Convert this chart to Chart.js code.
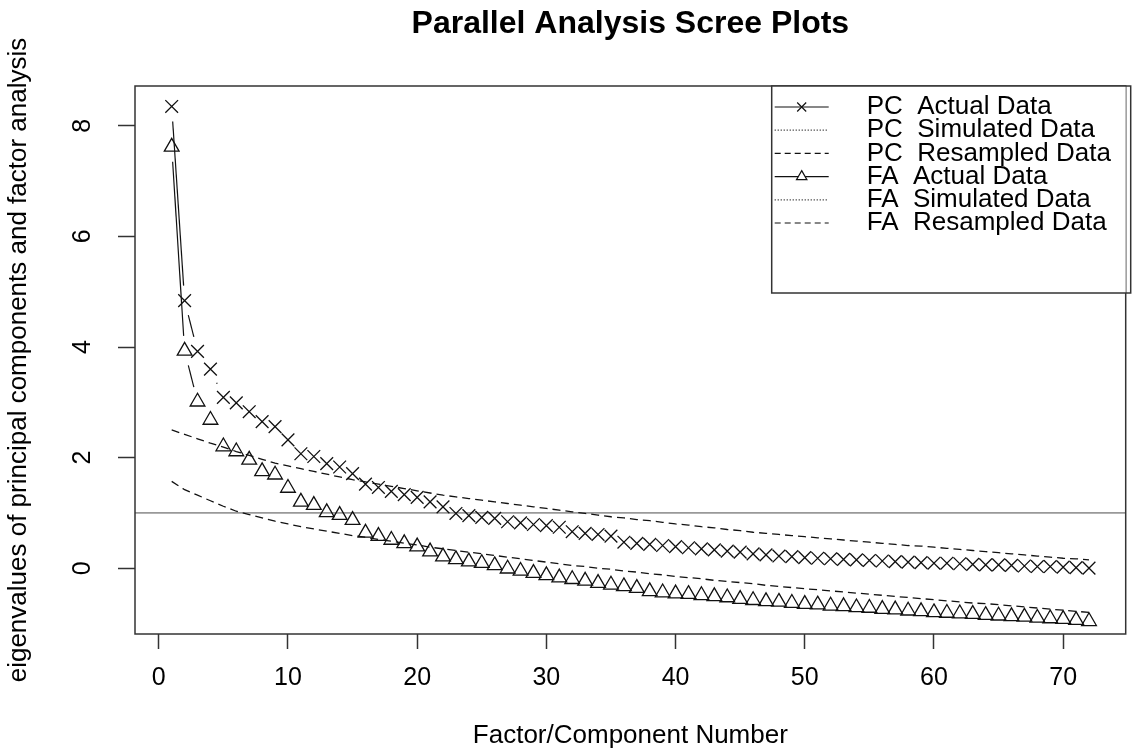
<!DOCTYPE html>
<html>
<head>
<title>Parallel Analysis Scree Plots</title>
<script src="https://cdn.jsdelivr.net/npm/chart.js"></script>
<style>
  body { margin: 0; background: #fff; }
  #chart-container { width: 1136px; height: 751px; }
</style>
</head>
<body>
<div id="chart-container"><canvas id="chart"></canvas></div>
<script>
const factorNumbers = [1, 2, 3, 4, 5, 6, 7, 8, 9, 10, 11, 12, 13, 14, 15, 16, 17, 18, 19, 20,
  21, 22, 23, 24, 25, 26, 27, 28, 29, 30, 31, 32, 33, 34, 35, 36, 37, 38, 39, 40,
  41, 42, 43, 44, 45, 46, 47, 48, 49, 50, 51, 52, 53, 54, 55, 56, 57, 58, 59, 60,
  61, 62, 63, 64, 65, 66, 67, 68, 69, 70, 71, 72];

const pcActual = [8.35, 4.84, 3.92, 3.60, 3.09, 2.99, 2.83, 2.65, 2.56, 2.32,
  2.07, 2.02, 1.89, 1.83, 1.71, 1.52, 1.46, 1.39, 1.33, 1.28,
  1.20, 1.11, 0.99, 0.95, 0.92, 0.90, 0.84, 0.82, 0.79, 0.77,
  0.74, 0.66, 0.63, 0.61, 0.58, 0.47, 0.45, 0.43, 0.41, 0.39,
  0.37, 0.35, 0.33, 0.31, 0.29, 0.26, 0.24, 0.22, 0.21, 0.19,
  0.18, 0.17, 0.16, 0.15, 0.14, 0.13, 0.12, 0.11, 0.10, 0.09,
  0.09, 0.08, 0.07, 0.06, 0.06, 0.05, 0.04, 0.03, 0.03, 0.02,
  0.01, 0.00];

const pcResampled = [2.50, 2.42, 2.34, 2.26, 2.19, 2.11, 2.04, 1.97, 1.90, 1.85,
  1.80, 1.75, 1.70, 1.65, 1.60, 1.56, 1.52, 1.48, 1.44, 1.40,
  1.36, 1.32, 1.29, 1.26, 1.23, 1.20, 1.17, 1.14, 1.11, 1.08,
  1.05, 1.02, 0.99, 0.96, 0.93, 0.91, 0.88, 0.86, 0.83, 0.80,
  0.78, 0.75, 0.73, 0.70, 0.68, 0.65, 0.63, 0.61, 0.59, 0.57,
  0.55, 0.53, 0.51, 0.49, 0.47, 0.45, 0.43, 0.41, 0.40, 0.38,
  0.36, 0.34, 0.32, 0.30, 0.28, 0.26, 0.24, 0.22, 0.20, 0.18,
  0.17, 0.15];

const faActual = [7.62, 3.93, 3.01, 2.68, 2.20, 2.11, 1.96, 1.75, 1.69, 1.45,
  1.20, 1.14, 1.01, 0.96, 0.87, 0.64, 0.58, 0.51, 0.45, 0.39,
  0.30, 0.21, 0.16, 0.12, 0.09, 0.05, -0.01, -0.05, -0.09, -0.13,
  -0.17, -0.20, -0.23, -0.27, -0.30, -0.33, -0.36, -0.42, -0.44, -0.46,
  -0.47, -0.49, -0.51, -0.53, -0.56, -0.58, -0.60, -0.61, -0.63, -0.65,
  -0.66, -0.68, -0.69, -0.71, -0.72, -0.74, -0.75, -0.77, -0.78, -0.80,
  -0.81, -0.82, -0.83, -0.85, -0.86, -0.87, -0.88, -0.90, -0.91, -0.92,
  -0.94, -0.96];

const faResampled = [1.57, 1.42, 1.32, 1.22, 1.12, 1.03, 0.97, 0.91, 0.85, 0.80,
  0.75, 0.71, 0.67, 0.63, 0.59, 0.56, 0.52, 0.49, 0.45, 0.42,
  0.38, 0.35, 0.32, 0.29, 0.26, 0.23, 0.20, 0.17, 0.14, 0.11,
  0.08, 0.05, 0.03, 0.00, -0.02, -0.05, -0.07, -0.10, -0.12, -0.15,
  -0.17, -0.19, -0.22, -0.24, -0.26, -0.28, -0.31, -0.33, -0.35, -0.37,
  -0.39, -0.41, -0.43, -0.45, -0.47, -0.49, -0.51, -0.53, -0.55, -0.57,
  -0.59, -0.61, -0.63, -0.64, -0.66, -0.68, -0.70, -0.72, -0.74, -0.76,
  -0.78, -0.80];

const legendLabels = ['PC  Actual Data', 'PC  Simulated Data', 'PC  Resampled Data',
  'FA  Actual Data', 'FA  Simulated Data', 'FA  Resampled Data'];

const xTickValues = [0, 10, 20, 30, 40, 50, 60, 70];
const yTickValues = [0, 2, 4, 6, 8];
const xRange = [-1.84, 74.84];
const yRange = [-1.19, 8.72];
const referenceLevel = 1;

const FONT = '"Liberation Sans", Arial, Helvetica, sans-serif';
const INK = '#111';
const GAP = 15;

Chart.defaults.font.family = FONT;
Chart.defaults.color = '#000';

function toPoints(values) {
  return factorNumbers.map((n, i) => ({x: n, y: values[i]}));
}

// R's type="b": the line stops short of each point
function gapDash(ctx) {
  const dx = ctx.p1.x - ctx.p0.x;
  const dy = ctx.p1.y - ctx.p0.y;
  const len = Math.sqrt(dx * dx + dy * dy);
  return [0, GAP, Math.max(len - 2 * GAP, 0), GAP];
}

const legendStyles = [
  {dash: [], marker: 'cross'},
  {dash: [1, 2], marker: null},
  {dash: [6, 4], marker: null},
  {dash: [], marker: 'triangle'},
  {dash: [1, 2], marker: null},
  {dash: [6, 4], marker: null}
];

const frameAndLegend = {
  id: 'frameAndLegend',
  afterDatasetsDraw(chart) {
    const {ctx, chartArea: a} = chart;
    ctx.save();
    ctx.strokeStyle = '#333';
    ctx.lineWidth = 1.5;
    ctx.strokeRect(a.left, a.top, a.right - a.left, a.bottom - a.top);

    const boxLeft = a.right - 354;
    const boxTop = a.top;
    const boxHeight = 207;
    ctx.fillStyle = '#fff';
    ctx.fillRect(boxLeft, boxTop, a.right - boxLeft, boxHeight);
    ctx.strokeRect(boxLeft, boxTop, a.right - boxLeft + 5, boxHeight);

    ctx.font = '26px ' + FONT;
    ctx.textBaseline = 'middle';
    legendLabels.forEach((label, i) => {
      const y = boxTop + 21 + i * 23.2;
      const st = legendStyles[i];
      ctx.strokeStyle = INK;
      ctx.lineWidth = 1.2;
      ctx.setLineDash(st.dash);
      ctx.beginPath();
      ctx.moveTo(boxLeft + 3, y);
      ctx.lineTo(boxLeft + 57, y);
      ctx.stroke();
      ctx.setLineDash([]);
      const mx = boxLeft + 30;
      ctx.beginPath();
      if (st.marker === 'cross') {
        ctx.moveTo(mx - 4.5, y - 4.5); ctx.lineTo(mx + 4.5, y + 4.5);
        ctx.moveTo(mx + 4.5, y - 4.5); ctx.lineTo(mx - 4.5, y + 4.5);
        ctx.stroke();
      } else if (st.marker === 'triangle') {
        ctx.moveTo(mx, y - 6); ctx.lineTo(mx + 5.2, y + 3); ctx.lineTo(mx - 5.2, y + 3);
        ctx.closePath();
        ctx.fillStyle = '#fff';
        ctx.fill();
        ctx.stroke();
      }
      ctx.fillStyle = '#000';
      ctx.fillText(label, boxLeft + 95, y);
    });
    ctx.restore();
  }
};

const ctx = document.getElementById('chart').getContext('2d');
new Chart(ctx, {
  type: 'line',
  data: {
    datasets: [
      {
        label: 'PC  Actual Data',
        data: toPoints(pcActual),
        borderColor: INK,
        borderWidth: 1.2,
        pointStyle: 'crossRot',
        pointRadius: 9,
        pointBorderWidth: 1.3,
        pointBorderColor: INK,
        segment: {borderDash: gapDash}
      },
      {
        label: 'PC  Resampled Data',
        data: toPoints(pcResampled),
        borderColor: INK,
        borderWidth: 1.3,
        borderDash: [8, 5],
        pointRadius: 0
      },
      {
        label: 'FA  Actual Data',
        data: toPoints(faActual),
        borderColor: INK,
        borderWidth: 1.2,
        pointStyle: 'triangle',
        pointRadius: 8.5,
        pointBorderWidth: 1.3,
        pointBorderColor: INK,
        pointBackgroundColor: 'rgba(0,0,0,0)',
        segment: {borderDash: gapDash}
      },
      {
        label: 'FA  Resampled Data',
        data: toPoints(faResampled),
        borderColor: INK,
        borderWidth: 1.3,
        borderDash: [8, 5],
        pointRadius: 0
      },
      {
        label: 'reference',
        data: [{x: xRange[0], y: referenceLevel}, {x: xRange[1], y: referenceLevel}],
        borderColor: '#999',
        borderWidth: 1.6,
        pointRadius: 0
      }
    ]
  },
  options: {
    responsive: true,
    maintainAspectRatio: false,
    animation: false,
    layout: {padding: 0},
    plugins: {
      legend: {display: false},
      tooltip: {enabled: false},
      title: {
        display: true,
        text: 'Parallel Analysis Scree Plots',
        fullSize: false,
        color: '#000',
        font: {size: 32, weight: 'bold', lineHeight: 1.2},
        padding: {top: 4.8, bottom: 42.8}
      }
    },
    scales: {
      x: {
        type: 'linear',
        min: xRange[0],
        max: xRange[1],
        afterBuildTicks: s => { s.ticks = xTickValues.map(v => ({value: v})); },
        afterFit: s => { s.height = 117; },
        ticks: {font: {size: 25}, color: '#000', padding: 14, maxRotation: 0},
        grid: {drawOnChartArea: false, drawTicks: true, tickLength: 15, tickColor: '#333', tickWidth: 1.5},
        border: {display: false},
        title: {
          display: true,
          text: 'Factor/Component Number',
          font: {size: 26, lineHeight: 1},
          padding: {top: 0, bottom: 2}
        }
      },
      y: {
        type: 'linear',
        min: yRange[0],
        max: yRange[1],
        afterBuildTicks: s => { s.ticks = yTickValues.map(v => ({value: v})); },
        afterFit: s => { s.width = 135; },
        ticks: {font: {size: 25}, color: '#000', padding: 28, minRotation: 90, maxRotation: 90, crossAlign: 'center'},
        grid: {drawOnChartArea: false, drawTicks: true, tickLength: 17, tickColor: '#333', tickWidth: 1.5},
        border: {display: false},
        title: {
          display: true,
          text: 'eigenvalues of principal components and factor analysis',
          font: {size: 26, lineHeight: 1},
          padding: {top: 6, bottom: 0}
        }
      }
    }
  },
  plugins: [frameAndLegend]
});
</script>
</body>
</html>
